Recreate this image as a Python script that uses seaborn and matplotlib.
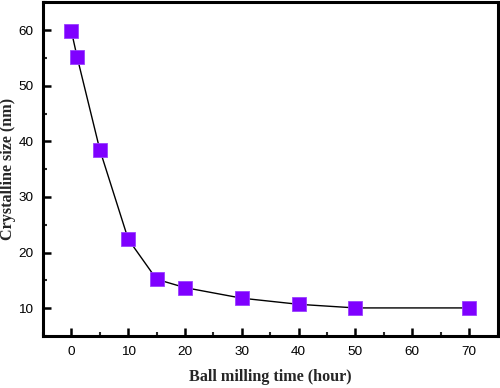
import matplotlib
matplotlib.use("Agg")
import matplotlib.pyplot as plt
from matplotlib.ticker import MultipleLocator
import seaborn as sns
import pandas as pd

# Tamanho de cristalito em função do tempo de moagem
milling_time = [0, 1, 5, 10, 15, 20, 30, 40, 50, 70]
crystal_size = [59.8, 55.2, 38.5, 22.4, 15.2, 13.7, 11.8, 10.7, 10.05, 10.05]

x_ticks = [0, 10, 20, 30, 40, 50, 60, 70]
y_ticks = [10, 20, 30, 40, 50, 60]

df = pd.DataFrame({"time": milling_time, "size": crystal_size})

sns.set_style("white")
plt.rcParams["font.family"] = ["Liberation Sans", "DejaVu Sans"]

fig, ax = plt.subplots(figsize=(5, 3.88), dpi=100)
fig.subplots_adjust(left=0.086, right=0.995, top=0.994, bottom=0.134)

sns.lineplot(data=df, x="time", y="size", ax=ax, color="black", linewidth=1.0,
             marker="s", markersize=9.5, markerfacecolor="#7F00FF",
             markeredgecolor="#9A40FF", markeredgewidth=0.6)

ax.set_xlim(-5, 75)
ax.set_ylim(5, 65)
ax.set_xticks(x_ticks)
ax.set_yticks(y_ticks)
ax.xaxis.set_minor_locator(MultipleLocator(5))
ax.yaxis.set_minor_locator(MultipleLocator(5))

ax.tick_params(axis="both", which="major", direction="in", length=6, width=1.8,
               labelsize=9.7, colors="black", top=False, right=False,
               bottom=True, left=True, pad=7)
ax.tick_params(axis="both", which="minor", direction="in", length=3, width=1.5,
               top=False, right=False, bottom=True, left=True)

for s in ax.spines.values():
    s.set_color("black")
    s.set_linewidth(2.2)

ax.set_xlabel("Ball milling time (hour)", family="Liberation Serif",
              fontweight="bold", fontsize=11.6)
ax.set_ylabel("Crystalline size (nm)", family="Liberation Serif",
              fontweight="bold", fontsize=11.6)
ax.xaxis.set_label_coords(0.5, -0.1)
ax.yaxis.set_label_coords(-0.06, 0.5)

plt.savefig("out.png", dpi=100)
